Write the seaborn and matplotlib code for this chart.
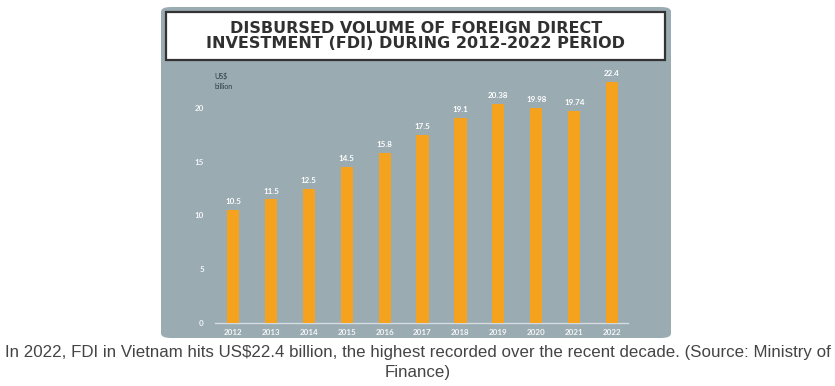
import matplotlib
matplotlib.use("Agg")
import matplotlib.pyplot as plt
from matplotlib.patches import FancyBboxPatch, Rectangle
import seaborn as sns
import pandas as pd

# data
years = ['2012', '2013', '2014', '2015', '2016', '2017', '2018', '2019', '2020', '2021', '2022']
fdi = [10.5, 11.5, 12.5, 14.5, 15.8, 17.5, 19.1, 20.38, 19.98, 19.74, 22.4]
value_labels = ['10.5', '11.5', '12.5', '14.5', '15.8', '17.5', '19.1', '20.38', '19.98', '19.74', '22.4']
yticks = [0, 5, 10, 15, 20]

df = pd.DataFrame({'year': years, 'fdi': fdi})

sns.set_style('white')
plt.rcParams['font.family'] = ['Lato', 'DejaVu Sans']

W, H = 835, 386
fig = plt.figure(figsize=(W / 100, H / 100), dpi=100)
fig.patch.set_facecolor('white')

panel_col = '#9aabb2'
bar_col = '#f5a21e'

# grey panel behind the chart
panel = FancyBboxPatch((161 / W, 1 - 338 / H), (671 - 161) / W, (338 - 7) / H,
                       boxstyle='round,pad=0,rounding_size=0.012',
                       transform=fig.transFigure, facecolor=panel_col,
                       edgecolor='none', zorder=-2)
fig.patches.append(panel)

# white title box
tbox = Rectangle((166 / W, 1 - 60 / H), (665 - 166) / W, (60 - 12) / H,
                 transform=fig.transFigure, facecolor='white',
                 edgecolor='#333333', linewidth=1.6, zorder=-1)
fig.patches.append(tbox)
fig.text(416 / W, 1 - 36 / H,
         'DISBURSED VOLUME OF FOREIGN DIRECT\nINVESTMENT (FDI) DURING 2012-2022 PERIOD',
         ha='center', va='center', fontsize=11.5, fontweight='bold',
         family='DejaVu Sans', color='#303030', linespacing=1.05)

# plot area
ax = fig.add_axes([215 / W, (H - 323) / H, (628 - 215) / W, 258 / H])
ax.set_facecolor('none')
ax.set_zorder(1)
sns.barplot(data=df, x='year', y='fdi', color=bar_col, width=0.32,
            saturation=1, linewidth=0, ax=ax, zorder=3)
ax.set_xlim(-0.475, 10.42)
ax.set_ylim(0, 24)
ax.set_yticks(yticks)
ax.set_xlabel('')
ax.set_ylabel('')
for s in ['top', 'right', 'left']:
    ax.spines[s].set_visible(False)
ax.spines['bottom'].set_color('#d5dde0')
ax.spines['bottom'].set_linewidth(1.0)
ax.tick_params(axis='both', length=0, labelsize=5.8, labelcolor='#f4f6f7')
ax.tick_params(axis='y', pad=8)
ax.tick_params(axis='x', pad=4)
for t in ax.get_xticklabels() + ax.get_yticklabels():
    t.set_fontweight('bold')

for i, (v, lab) in enumerate(zip(fdi, value_labels)):
    ax.text(i, v + 0.45, lab, ha='center', va='bottom', fontsize=5.8,
            color='white', fontweight='bold')

ax.text(-0.48, 22.5, 'US$\nbillion', ha='left', va='center', fontsize=5,
        color='#2e3a40', linespacing=1.5)

# caption below the panel
cap_font = ['Liberation Sans Narrow', 'Liberation Sans', 'DejaVu Sans']
fig.text(0.5, 1 - 352 / H,
         'In 2022, FDI in Vietnam hits US$22.4 billion, the highest recorded over the recent decade. (Source: Ministry of',
         ha='center', va='center', fontsize=12.2, color='#444444', family=cap_font)
fig.text(0.5, 1 - 372 / H, 'Finance)',
         ha='center', va='center', fontsize=12.2, color='#444444', family=cap_font)

fig.savefig('out.png', dpi=100, facecolor='white')
